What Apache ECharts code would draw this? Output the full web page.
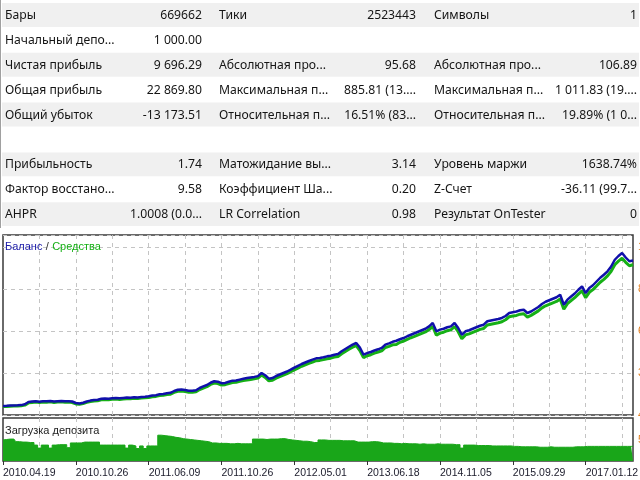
<!DOCTYPE html>
<html>
<head>
<meta charset="utf-8">
<script src="https://cdn.jsdelivr.net/npm/echarts@6/dist/echarts.min.js"></script>
<style>
  html, body { margin: 0; padding: 0; background: #fff; }
  #main { width: 640px; height: 480px; }
</style>
</head>
<body>
<div id="main"></div>
<script>
// report table, three column pairs
const labels1 = ['Бары', 'Начальный депо...', 'Чистая прибыль', 'Общая прибыль', 'Общий убыток', '', 'Прибыльность', 'Фактор восстано...', 'AHPR'];
const values1 = ['669662', '1 000.00', '9 696.29', '22 869.80', '-13 173.51', '', '1.74', '9.58', '1.0008 (0.0...'];
const labels2 = ['Тики', '', 'Абсолютная про...', 'Максимальная п...', 'Относительная п...', '', 'Матожидание вы...', 'Коэффициент Ша...', 'LR Correlation'];
const values2 = ['2523443', '', '95.68', '885.81 (13....', '16.51% (83...', '', '3.14', '0.20', '0.98'];
const labels3 = ['Символы', '', 'Абсолютная про...', 'Максимальная п...', 'Относительная п...', '', 'Уровень маржи', 'Z-Счет', 'Результат OnTester'];
const values3 = ['1', '', '106.89', '1 011.83 (19....', '19.89% (1 0...', '', '1638.74%', '-36.11 (99.7...', '0'];

// x axis date labels (every 20 deals)
const dateLabels = ['2010.04.19', '2010.10.26', '2011.06.09', '2011.10.26', '2012.05.01', '2013.06.18', '2014.11.05', '2015.09.29', '2017.01.12'];

// balance curve, by deal
const balance = [
  1000, 1010, 1030, 1040, 1045, 1060, 1120, 1270, 1300, 1310,
  1290, 1320, 1310, 1330, 1300, 1320, 1330, 1310, 1320, 1300,
  1200, 1170, 1220, 1300, 1360, 1400, 1420, 1480, 1500, 1490,
  1520, 1530, 1510, 1540, 1560, 1550, 1580, 1570, 1600, 1620,
  1650, 1700, 1720, 1780, 1800, 1850, 1880, 2000, 2080, 2100,
  2060, 2020, 2010, 2050, 2200, 2310, 2400, 2550, 2650, 2620,
  2520, 2540, 2620, 2690, 2700, 2760, 2820, 2860, 2900, 2940,
  2990, 3200, 3050, 2820, 2860, 3000, 3100, 3200, 3300, 3420,
  3560, 3680, 3800, 3900, 4000, 4090, 4180, 4200, 4250, 4310,
  4350, 4420, 4470, 4650, 4800, 4950, 5090, 5200, 4900, 4420,
  4530, 4600, 4700, 4780, 4870, 5090, 5180, 5280, 5350, 5450,
  5530, 5650, 5750, 5850, 5950, 6050, 6150, 6310, 6530, 5980,
  6090, 6150, 6250, 6310, 6530, 6200, 5750, 5980, 6050, 6150,
  6250, 6350, 6420, 6650, 6700, 6750, 6800, 6870, 7000, 7200,
  7250, 7300, 7380, 7420, 7200, 7300, 7450, 7600, 7800, 7950,
  8050, 8150, 8250, 8420, 7750, 8090, 8300, 8500, 8750, 8980,
  8530, 8870, 9050, 9300, 9550, 9750, 9980, 10300, 10750, 11000,
  11200, 10900, 10650, 10700
];

// equity curve, by deal
const equity = [
  960, 965, 985, 995, 1000, 1010, 1060, 1210, 1240, 1260,
  1230, 1270, 1250, 1280, 1240, 1270, 1280, 1250, 1270, 1230,
  1140, 1110, 1160, 1240, 1300, 1340, 1350, 1410, 1430, 1420,
  1450, 1460, 1440, 1470, 1490, 1480, 1510, 1500, 1530, 1550,
  1570, 1620, 1640, 1700, 1710, 1770, 1790, 1910, 1980, 2000,
  1960, 1920, 1910, 1950, 2100, 2200, 2290, 2440, 2530, 2500,
  2400, 2420, 2500, 2570, 2580, 2640, 2700, 2730, 2770, 2810,
  2860, 3060, 2900, 2680, 2720, 2860, 2960, 3060, 3160, 3280,
  3410, 3530, 3650, 3750, 3850, 3930, 4020, 4040, 4090, 4150,
  4190, 4260, 4300, 4480, 4630, 4780, 4920, 5030, 4700, 4230,
  4350, 4420, 4520, 4600, 4680, 4900, 4980, 5080, 5100, 5250,
  5330, 5440, 5550, 5640, 5740, 5840, 5940, 6100, 6300, 5720,
  5860, 5920, 6020, 6080, 6300, 5950, 5480, 5740, 5810, 5910,
  6010, 6110, 6170, 6400, 6450, 6500, 6550, 6620, 6750, 6950,
  7000, 7040, 7120, 7150, 6930, 7040, 7190, 7340, 7540, 7680,
  7780, 7880, 7970, 8140, 7450, 7820, 8020, 8220, 8460, 8680,
  8220, 8580, 8760, 9000, 9250, 9440, 9670, 9980, 10420, 10660,
  10850, 10580, 10350, 10420
];

// deposit load, percent
const depositLoad = [
  49, 50, 51, 51, 45, 44, 44, 43, 43, 37,
  30, 37, 37, 30, 37, 38, 38, 38, 31, 42,
  42, 42, 44, 44, 44, 44, 44, 37, 37, 37,
  37, 37, 37, 37, 30, 37, 35, 29, 35, 29,
  35, 35, 35, 60, 59, 58, 57, 55, 54, 52,
  51, 50, 49, 48, 47, 46, 45, 42, 42, 41,
  41, 41, 40, 40, 41, 40, 40, 40, 40, 51,
  51, 51, 50, 51, 51, 51, 52, 52, 50, 49,
  48, 47, 46, 46, 45, 43, 43, 49, 49, 48,
  48, 48, 48, 47, 47, 47, 47, 44, 44, 44,
  44, 45, 45, 44, 42, 42, 42, 41, 41, 40,
  41, 40, 40, 40, 39, 40, 39, 39, 39, 40,
  39, 39, 39, 39, 38, 38, 30, 37, 37, 37,
  36, 36, 36, 36, 35, 35, 35, 35, 35, 35,
  34, 34, 33, 33, 33, 33, 33, 32, 32, 32,
  33, 32, 32, 32, 32, 32, 32, 33, 33, 33,
  34, 34, 34, 34, 34, 34, 34, 34, 34, 34,
  34, 34, 34, 34
];

const deals = balance.map((v, i) => String(i));

const tableFont = '12.2px "Noto Sans", sans-serif';
const textColor = '#151515';
const rowH = 24.9;
const rowTop = 3;
const cols = [
  { labels: labels1, values: values1, lx: 5, vx: 202 },
  { labels: labels2, values: values2, lx: 219, vx: 416 },
  { labels: labels3, values: values3, lx: 434, vx: 637 }
];

const graphics = [];
for (let r = 0; r < labels1.length; r++) {
  if (r % 2 === 0 && r !== 5) {
    graphics.push({
      type: 'rect', silent: true, z: 0,
      shape: { x: 2, y: rowTop + r * rowH, width: 637, height: rowH - 1 },
      style: { fill: '#f0f0f0' }
    });
  }
  cols.forEach(c => {
    const cy = rowTop + r * rowH + rowH / 2;
    graphics.push({
      type: 'text', silent: true, z: 1,
      style: { text: c.labels[r], x: c.lx, y: cy, fill: textColor, font: tableFont, textAlign: 'left', textVerticalAlign: 'middle' }
    });
    graphics.push({
      type: 'text', silent: true, z: 1,
      style: { text: c.values[r], x: c.vx, y: cy, fill: textColor, font: tableFont, textAlign: 'right', textVerticalAlign: 'middle' }
    });
  });
}
// window edge on the left
graphics.push({
  type: 'line', silent: true,
  shape: { x1: 0.5, y1: 0, x2: 0.5, y2: 228 },
  style: { stroke: '#a0a0a0', lineWidth: 1 }
});
// chart captions
graphics.push({
  type: 'text', silent: true, z: 10,
  style: {
    x: 5, y: 247, textVerticalAlign: 'middle',
    text: '{b|Баланс} {s|/} {g|Средства}',
    rich: {
      b: { fill: '#1a1aa8', font: '11px "Liberation Sans", sans-serif' },
      s: { fill: '#333', font: '11px "Liberation Sans", sans-serif' },
      g: { fill: '#16b016', font: '11px "Liberation Sans", sans-serif' }
    }
  }
});
graphics.push({
  type: 'text', silent: true, z: 10,
  style: { x: 5, y: 431, textVerticalAlign: 'middle', text: 'Загрузка депозита', fill: '#222', font: '11px "Liberation Sans", sans-serif' }
});

const gridLine = { show: true, lineStyle: { color: '#c4c4c4', type: [4, 4], width: 1 } };

const chart = echarts.init(document.getElementById('main'));
chart.setOption({
  animation: false,
  backgroundColor: '#fff',
  graphic: graphics,
  grid: [
    { left: 3, right: 7, top: 235, height: 180, outerBoundsMode: 'none', containLabel: false, show: true, borderColor: '#3a3a3a', borderWidth: 1.5, backgroundColor: 'transparent' },
    { left: 3, right: 7, top: 418, height: 43, outerBoundsMode: 'none', containLabel: false, show: true, borderColor: '#3a3a3a', borderWidth: 1.5, backgroundColor: 'transparent' }
  ],
  xAxis: [
    {
      type: 'category', gridIndex: 0, data: deals, boundaryGap: false,
      axisLine: { show: false }, axisTick: { show: false }, axisLabel: { show: false },
      splitLine: Object.assign({ interval: (i) => i > 0 && i % 10 === 0 }, gridLine)
    },
    {
      type: 'category', gridIndex: 1, data: deals, boundaryGap: false,
      axisLine: { show: false },
      axisTick: { show: true, interval: (i) => i % 20 === 0, length: 4, lineStyle: { color: '#333' } },
      axisLabel: {
        interval: (i) => i % 20 === 0,
        formatter: (v, i) => dateLabels[i / 20] || '',
        align: 'left', margin: 7, fontSize: 10.5, color: '#1a1a2a',
        fontFamily: '"Liberation Sans", sans-serif'
      },
      splitLine: Object.assign({ interval: (i) => i > 0 && i % 10 === 0 }, gridLine)
    }
  ],
  yAxis: [
    {
      type: 'value', gridIndex: 0, position: 'right', min: 400, max: 12400, interval: 2800,
      axisLine: { show: false }, axisTick: { show: false },
      axisLabel: { color: '#e07b1a', margin: 5, fontSize: 11, showMaxLabel: false },
      splitLine: gridLine
    },
    {
      type: 'value', gridIndex: 1, position: 'right', min: 0, max: 100, interval: 50,
      axisLine: { show: false }, axisTick: { show: false },
      axisLabel: { color: '#e07b1a', margin: 5, fontSize: 11, showMaxLabel: false, showMinLabel: false },
      splitLine: { show: false }
    }
  ],
  series: [
    {
      name: 'Средства', type: 'line', xAxisIndex: 0, yAxisIndex: 0, data: equity,
      symbol: 'none', lineStyle: { color: '#16b016', width: 3 }, z: 3
    },
    {
      name: 'Баланс', type: 'line', xAxisIndex: 0, yAxisIndex: 0, data: balance,
      symbol: 'none', lineStyle: { color: '#1010aa', width: 2.5 }, z: 4
    },
    {
      name: 'Загрузка депозита', type: 'line', xAxisIndex: 1, yAxisIndex: 1, data: depositLoad,
      symbol: 'none', step: 'middle',
      lineStyle: { color: '#19a619', width: 1 },
      areaStyle: { color: '#19a619', opacity: 1 }, z: 2
    }
  ]
});
</script>
</body>
</html>
